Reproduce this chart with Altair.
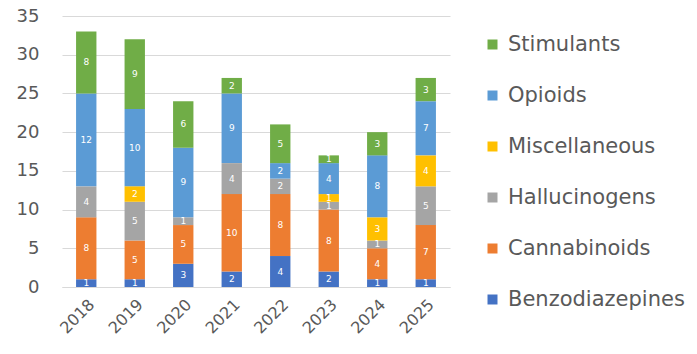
import altair as alt
import pandas as pd

years = ["2018", "2019", "2020", "2021", "2022", "2023", "2024", "2025"]
categories = ["Benzodiazepines", "Cannabinoids", "Hallucinogens", "Miscellaneous", "Opioids", "Stimulants"]
benzodiazepines = [1, 1, 3, 2, 4, 2, 1, 1]
cannabinoids = [8, 5, 5, 10, 8, 8, 4, 7]
hallucinogens = [4, 5, 1, 4, 2, 1, 1, 5]
miscellaneous = [0, 2, 0, 0, 0, 1, 3, 4]
opioids = [12, 10, 9, 9, 2, 4, 8, 7]
stimulants = [8, 9, 6, 2, 5, 1, 3, 3]
colors = ["#4472C4", "#ED7D31", "#A5A5A5", "#FFC000", "#5B9BD5", "#70AD47"]
y_ticks = [0, 5, 10, 15, 20, 25, 30, 35]

series = [benzodiazepines, cannabinoids, hallucinogens, miscellaneous, opioids, stimulants]
rows = []
for ci, (cat, vals) in enumerate(zip(categories, series)):
    for y, v in zip(years, vals):
        if v > 0:
            rows.append({"year": y, "category": cat, "value": v, "idx": ci})
df = pd.DataFrame(rows)

FONT = "DejaVu Sans"
legend_order = categories[::-1]
color_order = colors[::-1]

base = alt.Chart(df).transform_stack(
    stack="value", groupby=["year"], as_=["v0", "v1"],
    sort=[alt.SortField("idx", order="ascending")]
).transform_calculate(mid="(datum.v0 + datum.v1) / 2")

x = alt.X("year:N", title=None, sort=years,
          scale=alt.Scale(paddingInner=0.58, paddingOuter=0.29),
          axis=alt.Axis(labelAngle=-45, labelFontSize=16, labelColor="#595959",
                        labelFont=FONT, ticks=False, domainColor="#d9d9d9",
                        labelPadding=9))

yscale = alt.Scale(domain=[0, 35])
yaxis = alt.Axis(values=y_ticks, labelFontSize=18,
                 labelColor="#595959", labelFont=FONT, ticks=False,
                 domain=False, gridColor="#d9d9d9", labelPadding=23,
                 labelOverlap=False)

bars = base.mark_bar().encode(
    x=x,
    y=alt.Y("v0:Q", title=None, scale=yscale, axis=yaxis),
    y2="v1:Q",
    color=alt.Color("category:N", sort=legend_order,
                    scale=alt.Scale(domain=legend_order, range=color_order),
                    legend=alt.Legend(title=None, orient="none", legendX=420, legendY=18,
                                      symbolType="square", symbolSize=100,
                                      symbolStrokeWidth=0, labelFontSize=21,
                                      labelFont=FONT, labelColor="#595959",
                                      rowPadding=29, labelOffset=5, labelLimit=300)),
)

labels = base.mark_text(color="white", fontSize=9, font=FONT).encode(
    x=x,
    y=alt.Y("mid:Q", title=None, scale=yscale, axis=yaxis),
    text="value:Q",
)

chart = (bars + labels).properties(
    width=388, height=271,
    autosize=alt.AutoSizeParams(type="none"),
    padding={"left": 62, "top": 16, "right": 247, "bottom": 67},
).configure_view(stroke=None)

chart.save("out.html", embed_options={"renderer": "svg", "actions": False})
